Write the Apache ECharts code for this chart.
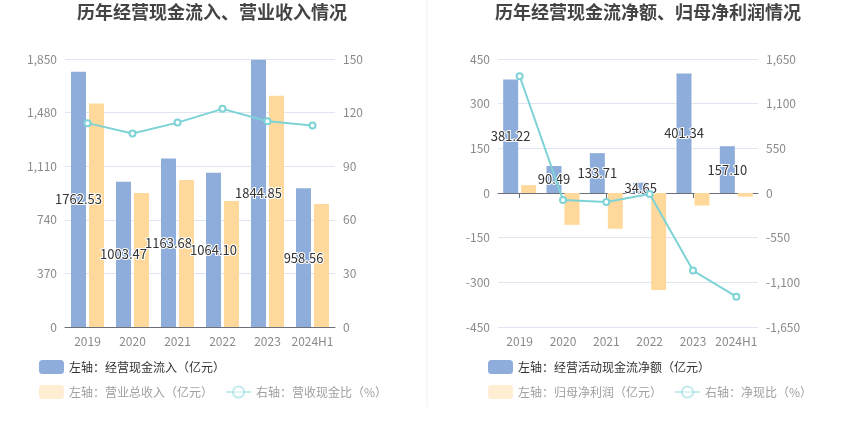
<!DOCTYPE html>
<html><head><meta charset="utf-8">
<script src="https://cdn.jsdelivr.net/npm/echarts@6/dist/echarts.min.js"></script>
<style>html,body{margin:0;padding:0;background:#fff}#c{width:850px;height:437px}</style>
</head><body><div id="c"></div>
<script>
const categories = ['2019','2020','2021','2022','2023','2024H1'];
// left chart
const cashInflow = [1762.53, 1003.47, 1163.68, 1064.10, 1844.85, 958.56];
const revenue = [1543, 925, 1015, 870, 1596, 849];
const cashRevenueRatio = [114.1, 108.3, 114.4, 122.1, 115.2, 112.8];
const leftTicks = [0, 370, 740, 1110, 1480, 1850];
const rightTicks = [0, 30, 60, 90, 120, 150];
// right chart
const netCashFlow = [381.22, 90.49, 133.71, 34.65, 401.34, 157.10];
const netProfit = [26.5, -107, -120, -326, -42, -12.3];
const netCashRatio = [1438, -85, -111, -11, -955, -1277];
const leftTicks2 = [-450, -300, -150, 0, 150, 300, 450];
const rightTicks2 = [-1650, -1100, -550, 0, 550, 1100, 1650];

const FONT = '"Noto Sans CJK SC", "Noto Sans", sans-serif';
const BLUE = '#8eaddb', ORANGE = '#ffd99b', CYAN = '#7dd3d6';
const axisLabel = {color: '#8a8a8a', fontSize: 12, fontFamily: FONT};
const splitLine = {lineStyle: {color: '#e0e6f1'}};
const barLabel = {show: true, position: 'inside', color: '#333', fontSize: 13, fontFamily: FONT,
  textBorderColor: '#fff', textBorderWidth: 2, formatter: p => p.value.toFixed(2)};

const chart = echarts.init(document.getElementById('c'), null, {renderer: 'canvas'});
const option = {
  animation: false,
  textStyle: {fontFamily: FONT},
  title: [
    {text: '历年经营现金流入、营业收入情况', left: 207, top: -2, textAlign: 'center',
     textStyle: {fontSize: 18, fontWeight: 'bold', color: '#444', fontFamily: FONT}},
    {text: '历年经营现金流净额、归母净利润情况', left: 643, top: -2, textAlign: 'center',
     textStyle: {fontSize: 18, fontWeight: 'bold', color: '#444', fontFamily: FONT}}
  ],
  graphic: [{type: 'line', shape: {x1: 427, y1: 0, x2: 427, y2: 407}, style: {stroke: '#eeeeee', lineWidth: 1}}],
  legend: [
    {left: 34, top: 355, itemWidth: 25, itemHeight: 14, itemGap: 12,
     textStyle: {fontSize: 12, color: '#333', fontFamily: FONT},
     data: ['左轴：经营现金流入（亿元）']},
    {left: 34, top: 380, itemWidth: 25, itemHeight: 14, itemGap: 12,
     textStyle: {fontSize: 12, color: '#a0a0a0', fontFamily: FONT},
     data: [{name: '左轴：营业总收入（亿元）', itemStyle: {opacity: 0.45}},
            {name: '右轴：营收现金比（%）', itemStyle: {opacity: 0.45}, lineStyle: {opacity: 0.45}}]},
    {left: 483, top: 355, itemWidth: 25, itemHeight: 14, itemGap: 12,
     textStyle: {fontSize: 12, color: '#333', fontFamily: FONT},
     data: ['左轴：经营活动现金流净额（亿元）']},
    {left: 483, top: 380, itemWidth: 25, itemHeight: 14, itemGap: 12,
     textStyle: {fontSize: 12, color: '#a0a0a0', fontFamily: FONT},
     data: [{name: '左轴：归母净利润（亿元）', itemStyle: {opacity: 0.45}},
            {name: '右轴：净现比（%）', itemStyle: {opacity: 0.45}, lineStyle: {opacity: 0.45}}]}
  ],
  grid: [
    {left: 65, right: 515, top: 59, bottom: 110},
    {left: 498, right: 92, top: 59, bottom: 110}
  ],
  xAxis: [
    {type: 'category', gridIndex: 0, data: categories,
     axisLine: {lineStyle: {color: '#6E7079'}}, axisTick: {alignWithLabel: true},
     axisLabel: Object.assign({}, axisLabel, {margin: 8, interval: 0})},
    {type: 'category', gridIndex: 1, data: categories, position: 'bottom',
     axisLine: {show: false}, axisTick: {show: false},
     axisLabel: Object.assign({}, axisLabel, {margin: 8, interval: 0})},
    {type: 'category', gridIndex: 1, data: categories, position: 'bottom',
     axisLine: {show: true, onZero: true, onZeroAxisIndex: 2, lineStyle: {color: '#6E7079'}},
     axisTick: {show: true, alignWithLabel: true}, axisLabel: {show: false}}
  ],
  yAxis: [
    {type: 'value', gridIndex: 0, min: leftTicks[0], max: leftTicks[leftTicks.length-1], interval: leftTicks[1]-leftTicks[0],
     axisLabel: axisLabel, splitLine: splitLine, axisLine: {show: false}, axisTick: {show: false}},
    {type: 'value', gridIndex: 0, min: rightTicks[0], max: rightTicks[rightTicks.length-1], interval: rightTicks[1]-rightTicks[0],
     axisLabel: axisLabel, splitLine: {show: false}, axisLine: {show: false}, axisTick: {show: false}},
    {type: 'value', gridIndex: 1, min: leftTicks2[0], max: leftTicks2[leftTicks2.length-1], interval: leftTicks2[1]-leftTicks2[0],
     axisLabel: axisLabel, splitLine: splitLine, axisLine: {show: false}, axisTick: {show: false}},
    {type: 'value', gridIndex: 1, min: rightTicks2[0], max: rightTicks2[rightTicks2.length-1], interval: rightTicks2[1]-rightTicks2[0],
     position: 'right',
     axisLabel: axisLabel, splitLine: {show: false}, axisLine: {show: false}, axisTick: {show: false}}
  ],
  series: [
    {name: '左轴：经营现金流入（亿元）', type: 'bar', xAxisIndex: 0, yAxisIndex: 0, data: cashInflow,
     barWidth: 15, barGap: '20%', itemStyle: {color: BLUE}, label: barLabel, z: 3},
    {name: '左轴：营业总收入（亿元）', type: 'bar', xAxisIndex: 0, yAxisIndex: 0, data: revenue,
     barWidth: 15, barGap: '20%', itemStyle: {color: ORANGE}, z: 2},
    {name: '右轴：营收现金比（%）', type: 'line', xAxisIndex: 0, yAxisIndex: 1, data: cashRevenueRatio,
     symbol: 'emptyCircle', symbolSize: 6, itemStyle: {color: CYAN}, lineStyle: {color: CYAN, width: 2}, z: 4},
    {name: '左轴：经营活动现金流净额（亿元）', type: 'bar', xAxisIndex: 1, yAxisIndex: 2, data: netCashFlow,
     barWidth: 15, barGap: '20%', itemStyle: {color: BLUE}, label: barLabel, z: 3},
    {name: '左轴：归母净利润（亿元）', type: 'bar', xAxisIndex: 1, yAxisIndex: 2, data: netProfit,
     barWidth: 15, barGap: '20%', itemStyle: {color: ORANGE}, z: 2},
    {name: '右轴：净现比（%）', type: 'line', xAxisIndex: 1, yAxisIndex: 3, data: netCashRatio,
     symbol: 'emptyCircle', symbolSize: 6, itemStyle: {color: CYAN}, lineStyle: {color: CYAN, width: 2}, z: 4}
  ]
};
chart.setOption(option);
</script></body></html>
